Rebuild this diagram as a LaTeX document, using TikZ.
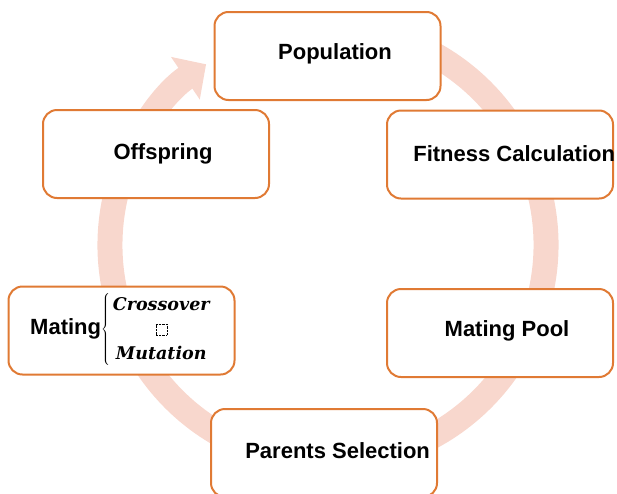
\documentclass[tikz,border=0pt]{standalone}
\usepackage{fontspec}
\setmainfont{Liberation Sans}
\newfontfamily\opfont{DejaVu Serif}
\usetikzlibrary{arrows.meta}
\usetikzlibrary{positioning}
\usetikzlibrary{calc}
\definecolor{boxorange}{RGB}{224,122,52}
\definecolor{ringpink}{RGB}{248,215,205}

\begin{document}
\begin{tikzpicture}[x=1pt,y=-1pt,semithick,
			font=\fontsize{22}{26}\selectfont\bfseries]
			\tikzstyle{stage}=[draw=boxorange,line width=2pt,rounded corners=14pt,fill=white,
			minimum width=226pt,minimum height=88pt]
			\tikzstyle{caption}=[inner sep=0pt]
			\useasboundingbox (0,0) rectangle (617,493);
			
			% the cycle behind the boxes
			\coordinate (c) at (328,245);
			\draw[ringpink,line width=25pt,-{Triangle[width=50pt,length=25pt]}]
			($(c)+(-75:218)$) arc[start angle=-75,end angle=236,radius=218];
			
			\node[stage]         (pop)  at (327.5,56)  {};
			\node[stage]         (off)  at (156,154)   {};
			\node[stage]         (fit)  at (500,154.5) {};
			\node[stage]         (mat)  at (121.5,330.5) {};
			\node[stage]         (pool) at (500,333)   {};
			\node[stage]         (par)  at (324,453)   {};
			
			\node[caption]       (pop_t)  at (335,54)  {Population};
			\node[caption]       (off_t)  at (163,154) {Offspring};
			\node[caption,anchor=west] (fit_t) at (413,154) {Fitness Calculation};
			\node[caption]       (pool_t) at (507,331) {Mating Pool};
			\node[caption,anchor=west] (par_t) at (245,451) {Parents Selection};
			\node[caption,anchor=west] (mat_t) at (30,330) 
			{Mating$\left\{\fontsize{17.5}{24.5}\selectfont
				\begin{tabular}{@{\,}c@{}}
				{\opfont\itshape Crossover}\\
				\tikz\draw[densely dotted,thin] (0pt,0pt) rectangle (11pt,11pt);\\
				{\opfont\itshape Mutation}
				\end{tabular}\right.$};
\end{tikzpicture}
\end{document}
